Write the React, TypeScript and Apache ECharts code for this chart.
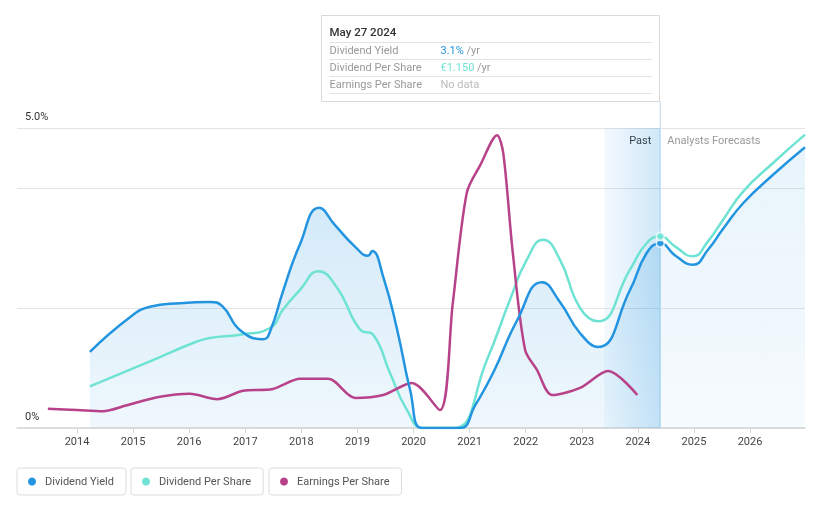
import React, { useEffect, useRef } from 'react';
import * as echarts from 'echarts';

// ---- data ----
const NOW = 2024.4;
const TOOLTIP_DATE = 'May 27 2024';
const X_MIN = 2012.93;
const X_MAX = 2026.98;
const yearTicks = [2014, 2015, 2016, 2017, 2018, 2019, 2020, 2021, 2022, 2023, 2024, 2025, 2026];

// Dividend Yield (%)
const dyYears = [2014.23, 2014.95, 2015.3, 2015.84, 2016.37, 2016.59, 2016.91, 2017.32, 2017.45, 2017.67, 2017.97, 2018.32, 2018.6, 2018.96, 2019.19, 2019.26, 2019.46, 2019.71, 2019.94, 2020.15, 2020.45, 2020.83, 2021.1, 2021.42, 2021.85, 2022.29, 2022.61, 2022.97, 2023.29, 2023.86, 2024.16, 2024.4, 2024.66, 2024.98, 2025.25, 2025.52, 2025.88, 2026.41, 2026.98];
const dyValues = [1.27, 1.85, 2.02, 2.08, 2.1, 2.03, 1.63, 1.48, 1.63, 2.27, 3.05, 3.67, 3.38, 3.02, 2.87, 2.95, 2.52, 1.63, 0.63, 0, 0, 0, 0.38, 0.92, 1.8, 2.43, 2.1, 1.58, 1.35, 2.3, 2.92, 3.08, 2.88, 2.72, 2.97, 3.32, 3.75, 4.22, 4.68];

// Dividend Per Share (€)
const dpsYears = [2014.23, 2015.3, 2016.07, 2016.37, 2016.91, 2017.44, 2017.67, 2017.98, 2018.3, 2018.64, 2019.05, 2019.28, 2019.58, 2019.88, 2020.17, 2020.45, 2020.74, 2021.31, 2021.72, 2022.02, 2022.31, 2022.61, 2022.97, 2023.29, 2023.86, 2024.16, 2024.4, 2024.66, 2024.98, 2025.25, 2025.52, 2025.88, 2026.41, 2026.98];
const dpsValues = [0.25, 0.4, 0.51, 0.54, 0.56, 0.6, 0.71, 0.83, 0.94, 0.84, 0.59, 0.56, 0.33, 0.11, 0, 0, 0, 0.41, 0.77, 1.01, 1.13, 1.01, 0.72, 0.64, 0.95, 1.11, 1.15, 1.09, 1.03, 1.12, 1.25, 1.42, 1.59, 1.76];

// Earnings Per Share (€)
const epsYears = [2013.48, 2014.0, 2014.46, 2014.89, 2015.48, 2016.01, 2016.5, 2016.96, 2017.49, 2017.98, 2018.48, 2018.96, 2019.46, 2019.97, 2020.47, 2020.7, 2020.95, 2021.19, 2021.49, 2021.6, 2021.77, 2021.99, 2022.2, 2022.47, 2022.97, 2023.47, 2023.99];
const epsValues = [0.32, 0.3, 0.28, 0.38, 0.52, 0.57, 0.48, 0.62, 0.65, 0.82, 0.82, 0.5, 0.55, 0.75, 0.3, 2.08, 3.92, 4.38, 4.88, 4.58, 2.92, 1.3, 0.97, 0.55, 0.67, 0.95, 0.55];

const BLUE = '#2394DF';
const TEAL = '#6FE3D3';
const MAGENTA = '#B8428A';
const FONT = 'Roboto, "Noto Sans", sans-serif';

const pairs = (xs: number[], ys: number[]) => xs.map((x, i) => [x, ys[i]]);
const valueAt = (xs: number[], ys: number[], x: number) => ys[xs.indexOf(x)];

export default function App() {
  const ref = useRef<HTMLDivElement>(null);

  useEffect(() => {
    const el = ref.current!;
    const chart = echarts.init(el, null, { renderer: 'svg' });
    const dy = pairs(dyYears, dyValues);
    const dps = pairs(dpsYears, dpsValues);
    const eps = pairs(epsYears, epsValues);
    const dyPast = dy.filter((p) => p[0] <= NOW);
    const dyFuture = dy.filter((p) => p[0] >= NOW);
    const dyNow = valueAt(dyYears, dyValues, NOW);
    const dpsNow = valueAt(dpsYears, dpsValues, NOW);
    const SMOOTH = 0.5;

    const legendCommon = {
      top: 468,
      icon: 'circle',
      itemWidth: 8,
      itemHeight: 8,
      padding: [8, 12, 8, 11],
      borderColor: '#dcdcdc',
      borderWidth: 1,
      borderRadius: 3,
      textStyle: { color: '#555', fontSize: 11, fontFamily: FONT, padding: [0, 0, 0, 4], lineHeight: 11 },
    };

    const option: any = {
      animation: false,
      textStyle: { fontFamily: FONT },
      grid: { left: 17, right: 16, top: 128, bottom: 80, containLabel: false },
      legend: [
        { ...legendCommon, left: 17, data: ['Dividend Yield'] },
        { ...legendCommon, left: 131, data: ['Dividend Per Share'] },
        { ...legendCommon, left: 269, data: ['Earnings Per Share'] },
      ],
      xAxis: {
        type: 'value',
        min: X_MIN,
        max: X_MAX,
        axisLine: { show: true, lineStyle: { color: '#d6d6d6', width: 1.5 } },
        axisTick: { show: true, length: 5, lineStyle: { color: '#d6d6d6' }, customValues: yearTicks },
        axisLabel: { color: '#444', fontSize: 11, margin: 8, customValues: yearTicks, formatter: (v: number) => String(Math.round(v)) },
        splitLine: { show: false },
      },
      yAxis: [
        {
          type: 'value',
          min: 0,
          max: 5,
          interval: 2,
          axisLine: { show: false },
          axisTick: { show: false },
          axisLabel: {
            inside: true,
            margin: 8,
            color: '#333',
            fontSize: 11,
            verticalAlign: 'bottom',
            padding: [0, 0, 6, 0],
            formatter: (v: number) => (v === 0 ? '0%' : v === 5 ? '5.0%' : ''),
          },
          splitLine: { show: true, lineStyle: { color: '#e4e4e4', width: 1 } },
        },
        { type: 'value', min: 0, max: 1.8, show: false, splitLine: { show: false } },
        { type: 'value', min: 0, max: 5, show: false, splitLine: { show: false } },
      ],
      series: [
        {
          name: 'Dividend Yield',
          type: 'line',
          data: dy,
          smooth: SMOOTH,
          symbol: 'none',
          z: 4,
          lineStyle: { color: BLUE, width: 2.5 },
          itemStyle: { color: BLUE },
        },
        {
          name: 'Dividend Per Share',
          type: 'line',
          yAxisIndex: 1,
          data: dps,
          smooth: SMOOTH,
          symbol: 'none',
          z: 3,
          lineStyle: { color: TEAL, width: 2.5 },
          itemStyle: { color: TEAL },
        },
        {
          name: 'Earnings Per Share',
          type: 'line',
          yAxisIndex: 2,
          data: eps,
          smooth: 0.3,
          symbol: 'none',
          z: 3,
          lineStyle: { color: MAGENTA, width: 2.5 },
          itemStyle: { color: MAGENTA },
        },
        {
          name: 'yield-area-past',
          type: 'line',
          data: dyPast,
          smooth: SMOOTH,
          symbol: 'none',
          silent: true,
          z: 1,
          lineStyle: { width: 0, opacity: 0 },
          areaStyle: {
            color: new echarts.graphic.LinearGradient(0, 0, 0, 1, [
              { offset: 0, color: 'rgba(35,148,223,0.28)' },
              { offset: 1, color: 'rgba(35,148,223,0.10)' },
            ]),
          },
          markArea: {
            silent: true,
            itemStyle: {
              color: new echarts.graphic.LinearGradient(0, 0, 1, 0, [
                { offset: 0, color: 'rgba(35,148,223,0.05)' },
                { offset: 1, color: 'rgba(35,148,223,0.22)' },
              ]),
            },
            data: [[{ xAxis: NOW - 1 }, { xAxis: NOW }]],
          },
        },
        {
          name: 'yield-area-forecast',
          type: 'line',
          data: dyFuture,
          smooth: SMOOTH,
          symbol: 'none',
          silent: true,
          z: 1,
          lineStyle: { width: 0, opacity: 0 },
          areaStyle: {
            color: new echarts.graphic.LinearGradient(0, 0, 0, 1, [
              { offset: 0, color: 'rgba(35,148,223,0.15)' },
              { offset: 1, color: 'rgba(35,148,223,0.06)' },
            ]),
          },
        },
        {
          name: 'now-yield',
          type: 'scatter',
          data: [[NOW, dyNow]],
          symbolSize: 8,
          z: 6,
          itemStyle: { color: BLUE, borderColor: '#fff', borderWidth: 1.5 },
        },
        {
          name: 'now-dps',
          type: 'scatter',
          yAxisIndex: 1,
          data: [[NOW, dpsNow]],
          symbolSize: 8,
          z: 6,
          itemStyle: { color: TEAL, borderColor: '#fff', borderWidth: 1.5 },
        },
      ],
    };
    chart.setOption(option);

    const nowX = chart.convertToPixel({ xAxisIndex: 0 }, NOW) as number;
    const gridTop = chart.convertToPixel({ yAxisIndex: 0 }, 5) as number;
    const gridBottom = chart.convertToPixel({ yAxisIndex: 0 }, 0) as number;

    const boxW = 338;
    const boxTop = 15.5;
    const boxH = 86;
    const left = Math.round(nowX) - boxW - 0.5;
    const rowY = [50.5, 67.5, 84.5];
    const sepY = [42.5, 59.5, 76.5, 93.5];
    const labelStyle = { fill: '#999', fontSize: 11, fontFamily: FONT, verticalAlign: 'middle' };

    chart.setOption({
      graphic: [
        {
          type: 'line',
          silent: true,
          z: 0,
          shape: { x1: nowX, y1: boxTop + boxH, x2: nowX, y2: gridBottom },
          style: { stroke: '#d2e5f5', lineWidth: 1.5 },
        },
        {
          type: 'text',
          silent: true,
          style: { text: 'Past', x: nowX - 9, y: gridTop + 12, align: 'right', verticalAlign: 'middle', fill: '#333', fontSize: 11, fontFamily: FONT },
        },
        {
          type: 'text',
          silent: true,
          style: { text: 'Analysts Forecasts', x: nowX + 7, y: gridTop + 12, align: 'left', verticalAlign: 'middle', fill: '#999', fontSize: 11, fontFamily: FONT },
        },
        {
          type: 'group',
          silent: true,
          children: [
            {
              type: 'rect',
              shape: { x: left, y: boxTop, width: boxW, height: boxH },
              style: { fill: '#fff', stroke: '#d9d9d9', lineWidth: 1 },
            },
            ...sepY.map((y) => ({
              type: 'line',
              shape: { x1: left + 8, y1: y, x2: left + boxW - 8, y2: y },
              style: { stroke: '#e2e2e2', lineWidth: 1 },
            })),
            {
              type: 'text',
              style: { text: TOOLTIP_DATE, x: left + 8, y: 32, fill: '#333', fontSize: 11.5, fontWeight: 500, fontFamily: FONT, verticalAlign: 'middle' },
            },
            { type: 'text', style: { ...labelStyle, text: 'Dividend Yield', x: left + 8, y: rowY[0] } },
            { type: 'text', style: { ...labelStyle, text: 'Dividend Per Share', x: left + 8, y: rowY[1] } },
            { type: 'text', style: { ...labelStyle, text: 'Earnings Per Share', x: left + 8, y: rowY[2] } },
            {
              type: 'text',
              style: {
                text: `{v|${dyNow.toFixed(1)}%}{u| /yr}`,
                x: left + 119,
                y: rowY[0],
                verticalAlign: 'middle',
                fontSize: 11,
                fontFamily: FONT,
                rich: { v: { fill: BLUE, fontSize: 11, fontFamily: FONT }, u: { fill: '#999', fontSize: 11, fontFamily: FONT } },
              },
            },
            {
              type: 'text',
              style: {
                text: `{v|€${dpsNow.toFixed(3)}}{u| /yr}`,
                x: left + 119,
                y: rowY[1],
                verticalAlign: 'middle',
                fontSize: 11,
                fontFamily: FONT,
                rich: { v: { fill: TEAL, fontSize: 11, fontFamily: FONT }, u: { fill: '#999', fontSize: 11, fontFamily: FONT } },
              },
            },
            { type: 'text', style: { ...labelStyle, fill: '#bbb', text: 'No data', x: left + 119, y: rowY[2] } },
          ],
        },
      ],
    });

    return () => chart.dispose();
  }, []);

  return <div ref={ref} style={{ position: 'fixed', left: 0, top: 0, width: 821, height: 508 }} />;
}
